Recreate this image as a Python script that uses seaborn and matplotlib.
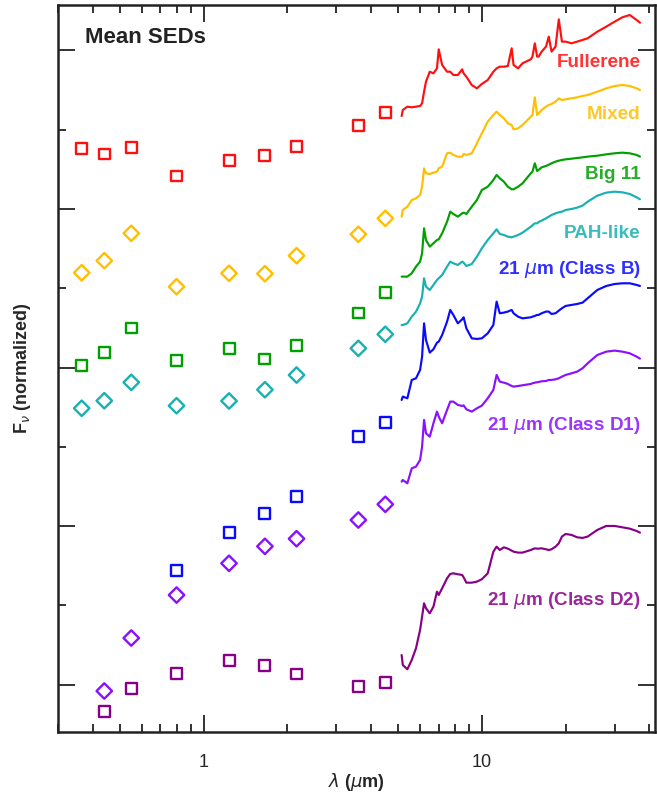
import numpy as np
import pandas as pd
import matplotlib
matplotlib.use("Agg")
import matplotlib.pyplot as plt
import seaborn as sns

# ---------------- data ----------------
series_names = ["Fullerene", "Mixed", "Big 11", "PAH-like",
                "21 $\\mu$m (Class B)", "21 $\\mu$m (Class D1)", "21 $\\mu$m (Class D2)"]
series_colors = ["#ff1010", "#ffbf00", "#00a000", "#18b0b0", "#0a0aff", "#8a10ff", "#880088"]
series_markers = ["s", "D", "s", "D", "s", "D", "s"]

# photometry wavelengths (U B V I J H K IRAC1 IRAC2), micron
phot_wl = [0.365, 0.44, 0.55, 0.80, 1.235, 1.662, 2.159, 3.6, 4.5]
nan = np.nan
phot_fullerene = [6.764, 6.692, 6.772, 6.415, 6.608, 6.671, 6.784, 7.049, 7.213]
phot_mixed     = [5.195, 5.347, 5.692, 5.019, 5.188, 5.183, 5.410, 5.680, 5.881]
phot_big11     = [4.023, 4.195, 4.498, 4.086, 4.237, 4.107, 4.280, 4.687, 4.943]
phot_pahlike   = [3.486, 3.581, 3.813, 3.518, 3.578, 3.720, 3.905, 4.242, 4.419]
phot_classB    = [nan, nan, nan, 1.438, 1.922, 2.161, 2.376, 3.127, 3.304]
phot_classD1   = [nan, -0.079, 0.589, 1.131, 1.531, 1.745, 1.841, 2.077, 2.275]
phot_classD2   = [nan, -0.340, -0.050, 0.139, 0.303, 0.240, 0.135, -0.025, 0.025]

# mean Spitzer/IRS spectra (micron)
spec_wl = [5.15, 5.2, 5.4, 5.6, 5.8, 6.0, 6.1, 6.2, 6.3, 6.5, 6.7, 6.9, 7.0, 7.2, 7.5,
           7.7, 7.9, 8.2, 8.5, 8.6, 8.8, 9.2, 9.6, 10.0, 10.5, 11.0, 11.3, 11.6, 12.0,
           12.4, 12.8, 13.0, 13.5, 14.0, 15.0, 15.2, 15.5, 15.8, 16.0, 16.4, 17.0, 17.4,
           17.8, 18.4, 18.9, 19.4, 20.0, 21.0, 22.0, 23.0, 24.0, 26.0, 28.0, 30.0, 32.0,
           34.0, 36.0, 37.0]
spec_fullerene = [7.171, 7.247, 7.289, 7.281, 7.289, 7.298, 7.331, 7.478, 7.604, 7.730,
                  7.709, 7.772, 8.012, 7.815, 7.730, 7.730, 7.688, 7.688, 7.760, 7.709,
                  7.667, 7.562, 7.520, 7.575, 7.625, 7.730, 7.772, 7.793, 7.793, 7.802,
                  8.025, 7.815, 7.772, 7.836, 7.886, 7.920, 8.088, 7.920, 7.920, 7.983,
                  8.046, 8.172, 7.983, 8.046, 8.390, 8.109, 8.109, 8.088, 8.109, 8.130,
                  8.151, 8.235, 8.298, 8.361, 8.416, 8.445, 8.382, 8.348]
spec_mixed = [5.902, 5.986, 6.028, 6.112, 6.133, 6.175, 6.280, 6.512, 6.449, 6.440,
              6.457, 6.470, 6.512, 6.533, 6.701, 6.709, 6.680, 6.659, 6.659, 6.692,
              6.680, 6.701, 6.827, 6.953, 7.100, 7.184, 7.226, 7.184, 7.142, 7.079,
              7.058, 7.003, 7.016, 7.058, 7.163, 7.184, 7.407, 7.184, 7.205, 7.247,
              7.289, 7.310, 7.323, 7.352, 7.394, 7.373, 7.382, 7.394, 7.407, 7.424,
              7.436, 7.478, 7.520, 7.550, 7.562, 7.550, 7.520, 7.499]
spec_big11 = [5.146, 5.146, 5.146, 5.188, 5.272, 5.335, 5.440, 5.755, 5.608, 5.524,
              5.566, 5.608, 5.616, 5.692, 5.839, 5.965, 5.936, 5.902, 5.944, 5.953,
              5.936, 6.028, 6.112, 6.238, 6.280, 6.364, 6.428, 6.386, 6.343, 6.280,
              6.247, 6.247, 6.280, 6.322, 6.449, 6.470, 6.575, 6.478, 6.491, 6.524,
              6.541, 6.558, 6.575, 6.596, 6.608, 6.617, 6.625, 6.633, 6.642, 6.650,
              6.659, 6.671, 6.688, 6.701, 6.709, 6.701, 6.680, 6.659]
spec_pahlike = [4.536, 4.536, 4.557, 4.641, 4.704, 4.809, 4.893, 5.125, 5.020, 4.977,
                5.041, 5.104, 5.125, 5.167, 5.272, 5.335, 5.314, 5.293, 5.335, 5.322,
                5.280, 5.305, 5.398, 5.503, 5.608, 5.692, 5.742, 5.684, 5.671, 5.650,
                5.642, 5.650, 5.671, 5.700, 5.776, 5.793, 5.818, 5.818, 5.835, 5.852,
                5.881, 5.902, 5.923, 5.944, 5.957, 5.965, 5.986, 5.999, 6.016, 6.041,
                6.091, 6.167, 6.205, 6.217, 6.209, 6.188, 6.146, 6.121]
spec_classB = [3.591, 3.633, 3.612, 3.843, 3.864, 3.969, 4.137, 4.557, 4.347, 4.188,
               4.230, 4.314, 4.326, 4.410, 4.578, 4.726, 4.663, 4.557, 4.608, 4.633,
               4.494, 4.368, 4.360, 4.368, 4.431, 4.536, 4.831, 4.684, 4.692, 4.705,
               4.726, 4.684, 4.641, 4.620, 4.633, 4.641, 4.650, 4.663, 4.663, 4.684,
               4.705, 4.705, 4.675, 4.684, 4.717, 4.747, 4.776, 4.789, 4.801, 4.818,
               4.873, 4.978, 5.028, 5.053, 5.062, 5.062, 5.041, 5.028]
spec_classD1 = [2.561, 2.582, 2.540, 2.729, 2.750, 2.834, 3.002, 3.339, 3.170, 3.128,
                3.297, 3.444, 3.381, 3.297, 3.465, 3.570, 3.570, 3.528, 3.515, 3.523,
                3.473, 3.444, 3.486, 3.519, 3.612, 3.717, 3.906, 3.822, 3.809, 3.793,
                3.767, 3.759, 3.767, 3.776, 3.793, 3.801, 3.809, 3.814, 3.818, 3.826,
                3.830, 3.843, 3.843, 3.851, 3.864, 3.885, 3.906, 3.927, 3.948, 3.990,
                4.053, 4.158, 4.200, 4.213, 4.200, 4.179, 4.137, 4.112]
spec_classD2 = [0.375, 0.249, 0.195, 0.312, 0.460, 0.691, 0.859, 1.027, 0.964, 0.901,
                0.985, 1.174, 1.132, 1.216, 1.342, 1.397, 1.405, 1.393, 1.384, 1.355,
                1.287, 1.287, 1.300, 1.330, 1.405, 1.678, 1.741, 1.699, 1.733, 1.716,
                1.691, 1.678, 1.666, 1.666, 1.699, 1.708, 1.720, 1.716, 1.716, 1.720,
                1.708, 1.699, 1.708, 1.741, 1.783, 1.868, 1.901, 1.889, 1.859, 1.851,
                1.868, 1.952, 2.002, 2.002, 1.985, 1.968, 1.939, 1.918]

phot_all = [phot_fullerene, phot_mixed, phot_big11, phot_pahlike,
            phot_classB, phot_classD1, phot_classD2]
spec_all = [spec_fullerene, spec_mixed, spec_big11, spec_pahlike,
            spec_classB, spec_classD1, spec_classD2]

# label levels (flux units of the plot)
label_y = [7.85, 7.19, 6.43, 5.685, 5.24, 3.27, 1.06]

# ---------------- plot ----------------
sns.set_theme(style="ticks")
plt.rcParams["font.family"] = ["Liberation Sans", "DejaVu Sans"]
plt.rcParams["mathtext.fontset"] = "dejavusans"

fig = plt.figure(figsize=(6.57, 7.97), dpi=100)
ax = fig.add_axes([58 / 657, 65 / 797, 597 / 657, 727 / 797])
ax.set_xscale("log")

for name, col, mk, ph, sp in zip(series_names, series_colors, series_markers,
                                 phot_all, spec_all):
    sns.lineplot(x=spec_wl, y=sp, ax=ax, color=col, lw=1.55,
                 estimator=None, sort=False)
    dfp = pd.DataFrame({"wl": phot_wl, "f": ph}).dropna()
    sns.scatterplot(data=dfp, x="wl", y="f", ax=ax, marker=mk, s=62,
                    color=col, facecolor="none", edgecolor=col, linewidth=1.7,
                    zorder=3)

for name, col, ly in zip(series_names, series_colors, label_y):
    ax.text(0.976, ly, name, transform=ax.get_yaxis_transform(), ha="right",
            va="center", color=col, fontsize=13.6, fontweight="bold", alpha=0.85)

ax.text(0.045, 0.955, "Mean SEDs", transform=ax.transAxes, ha="left", va="center",
        fontsize=16, fontweight="bold", color="#222222")

ax.set_xlim(0.30, 41.9)
ax.set_ylim(-0.596, 8.571)

ax.set_xticks([1, 10])
ax.set_xticklabels(["1", "10"])
minor_x = [0.3, 0.4, 0.5, 0.6, 0.7, 0.8, 0.9, 2, 3, 4, 5, 6, 7, 8, 9, 20, 30, 40]
ax.set_xticks(minor_x, minor=True)
ax.set_xticklabels([""] * len(minor_x), minor=True)
ax.set_yticks([0, 2, 4, 6, 8])
ax.set_yticklabels([])
ax.set_yticks([1, 3, 5, 7], minor=True)

ax.tick_params(which="both", direction="in", top=True, right=True,
               color="#222222", width=1.3)
ax.tick_params(which="major", length=12, labelsize=13, pad=16)
ax.tick_params(which="minor", length=6)
for sp in ax.spines.values():
    sp.set_linewidth(1.8)
    sp.set_color("#222222")

ax.set_xlabel("$\\lambda$ ($\\mu$m)", fontsize=13, fontweight="bold", labelpad=0)
ax.set_ylabel("F$_\\nu$ (normalized)", fontsize=13, fontweight="bold")
ax.yaxis.set_label_coords(-0.042, 0.5)

fig.savefig("out.png", dpi=100)
